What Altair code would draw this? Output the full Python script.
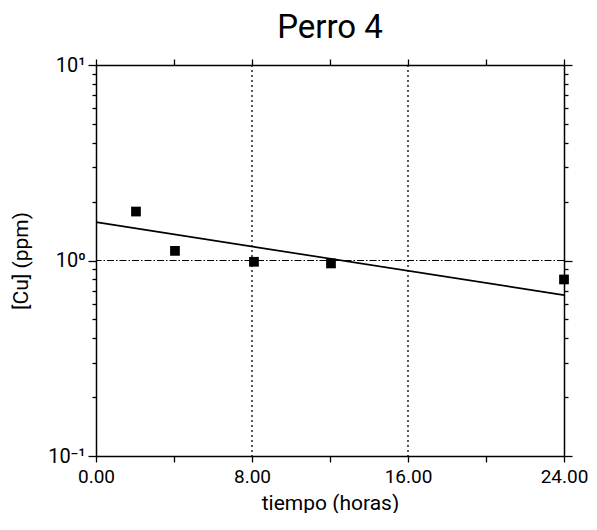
import altair as alt
import pandas as pd

# measured points
t_hours = [2.05, 4.05, 8.1, 12.05, 24.0]
cu_ppm = [1.78, 1.12, 0.985, 0.966, 0.80]

# fitted regression line endpoints
fit_t = [0.0, 24.0]
fit_cu = [1.57, 0.665]

x_ticks = [0, 4, 8, 12, 16, 20, 24]
x_grid = [8, 16]
y_grid = [1.0]
y_ticks = [0.1, 0.2, 0.3, 0.4, 0.5, 0.6, 0.7, 0.8, 0.9,
           1, 2, 3, 4, 5, 6, 7, 8, 9, 10]

FONT = "Roboto, DejaVu Sans"

pts = pd.DataFrame({"t": t_hours, "cu": cu_ppm})
fit = pd.DataFrame({"t": fit_t, "cu": fit_cu})
gx = pd.DataFrame({"t": x_grid})
gy = pd.DataFrame({"cu": y_grid})

xscale = alt.Scale(domain=[0, 24], nice=False, zero=False)
yscale = alt.Scale(type="log", domain=[0.1, 10], nice=False)

major_y = "datum.value == 10 || datum.value == 1 || datum.value == 0.1"

common = dict(
    grid=False,
    domainColor="black",
    domainWidth=1.5,
    tickColor="black",
    tickWidth=1.3,
    labelFont=FONT,
    labelColor="black",
    labelFlush=False,
    titleFont=FONT,
    titleFontWeight="normal",
    titleColor="black",
)

x_axis = alt.Axis(
    values=x_ticks,
    labelExpr="datum.value % 8 == 0 ? format(datum.value, '.2f') : ''",
    title="tiempo (horas)",
    tickSize=6,
    labelFontSize=19,
    titleFontSize=21,
    labelPadding=5,
    titlePadding=6,
    **common,
)

y_axis = alt.Axis(
    values=y_ticks,
    labelExpr="datum.value == 10 ? '10¹' : datum.value == 1 ? '10⁰' : datum.value == 0.1 ? '10⁻¹' : ''",
    title="[Cu] (ppm)",
    tickSize=alt.ConditionalAxisNumber(condition={"test": major_y, "value": 8}, value=4),
    labelFontSize=20,
    titleFontSize=21,
    labelPadding=3,
    titlePadding=16,
    **common,
)

x_axis_top = alt.Axis(
    values=x_ticks, labels=False, title=None, orient="top", tickSize=6,
    grid=False, domainColor="black", domainWidth=1.5, tickColor="black", tickWidth=1.3,
)
y_axis_right = alt.Axis(
    values=y_ticks, labels=False, title=None, orient="right",
    tickSize=alt.ConditionalAxisNumber(condition={"test": major_y, "value": 8}, value=4),
    grid=False, domainColor="black", domainWidth=1.5, tickColor="black", tickWidth=1.3,
)

grid_v = alt.Chart(gx).mark_rule(color="black", strokeDash=[2, 3], strokeWidth=1.3).encode(
    x=alt.X("t:Q", scale=xscale, axis=None)
)
grid_h = alt.Chart(gy).mark_rule(color="black", strokeDash=[7, 2, 1.5, 2], strokeWidth=1.1).encode(
    y=alt.Y("cu:Q", scale=yscale, axis=None)
)

line = alt.Chart(fit).mark_line(color="black", strokeWidth=1.7).encode(
    x=alt.X("t:Q", scale=xscale, axis=x_axis),
    y=alt.Y("cu:Q", scale=yscale, axis=y_axis),
)

points = alt.Chart(pts).mark_point(
    shape="square", filled=True, color="black", opacity=1, size=95
).encode(
    x=alt.X("t:Q", scale=xscale, axis=x_axis_top),
    y=alt.Y("cu:Q", scale=yscale, axis=y_axis_right),
)

chart = alt.layer(line, grid_v, grid_h, points).resolve_axis(
    x="independent", y="independent"
).properties(
    width=468,
    height=391,
    padding={"left": 2, "top": 4, "right": 0, "bottom": 0},
    background="white",
    title=alt.TitleParams(
        "Perro 4", font=FONT, fontSize=33, fontWeight="normal", color="black", offset=10
    ),
).configure_view(stroke=None)

chart.save("out.html", embed_options={"renderer": "svg", "actions": False})
